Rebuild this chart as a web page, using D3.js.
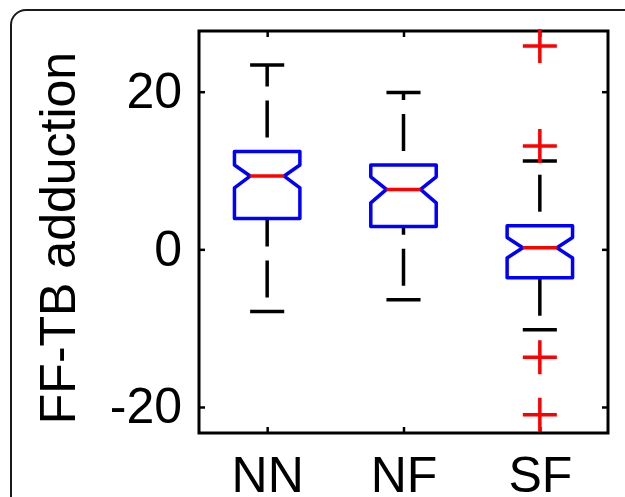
<!DOCTYPE html>
<html>
<head>
<meta charset="utf-8">
<script src="https://cdn.jsdelivr.net/npm/d3@7"></script>
<style>
  body { margin: 0; background: #fff; }
  svg { display: block; }
</style>
</head>
<body>
<script>
// box plot summary per group
const categories = ["NN", "NF", "SF"];
const whiskerHigh = [23.4, 19.9, 11.2];
const q3 = [12.4, 10.7, 3.0];
const notchHigh = [10.7, 9.2, 1.5];
const medians = [9.3, 7.6, 0.2];
const notchLow = [7.8, 5.9, -1.1];
const q1 = [3.9, 2.9, -3.6];
const whiskerLow = [-7.9, -6.4, -10.2];
const outliers = [[], [], [25.8, 13.1, -13.7, -21.0]];
const yTicks = [-20, 0, 20];

const w = 625, h = 497;
const plot = { left: 199, right: 608, top: 31, bottom: 433 };
const font = "'Liberation Sans', Arial, Helvetica, sans-serif";

const svg = d3.select("body").append("svg")
    .attr("width", w)
    .attr("height", h);

// journal frame, only top-left part visible
svg.append("rect")
    .attr("x", 11).attr("y", 10)
    .attr("width", 800).attr("height", 700)
    .attr("rx", 15)
    .attr("fill", "none")
    .attr("stroke", "#1a1a1a")
    .attr("stroke-width", 2);

const x = d3.scaleLinear().domain([0.5, 3.5]).range([plot.left, plot.right]);
const y = d3.scaleLinear().domain([-23.3, 27.7]).range([plot.bottom, plot.top]);

const boxHalf = 0.24, capHalf = 0.125, notchHalf = 0.125;

// axes (inward ticks on all four sides)
const styleAxis = g => {
    g.select(".domain").remove();
    g.selectAll(".tick line").attr("stroke", "#000").attr("stroke-width", 2.5);
    g.selectAll("text")
        .attr("fill", "#000")
        .style("font-family", font)
        .style("font-size", "50px");
};

svg.append("g")
    .attr("transform", `translate(${plot.left},0)`)
    .call(d3.axisLeft(y).tickValues(yTicks).tickSizeInner(-6).tickSizeOuter(0)
        .tickPadding(17).tickFormat(d => String(d)))
    .call(styleAxis);

svg.append("g")
    .attr("transform", `translate(${plot.right},0)`)
    .call(d3.axisRight(y).tickValues(yTicks).tickSizeInner(-6).tickSizeOuter(0).tickFormat(""))
    .call(styleAxis);

svg.append("g")
    .attr("transform", `translate(0,${plot.bottom})`)
    .call(d3.axisBottom(x).tickValues([1, 2, 3]).tickSizeInner(-6).tickSizeOuter(0)
        .tickPadding(23).tickFormat(d => categories[d - 1]))
    .call(styleAxis);

svg.append("g")
    .attr("transform", `translate(0,${plot.top})`)
    .call(d3.axisTop(x).tickValues([1, 2, 3]).tickSizeInner(-6).tickSizeOuter(0).tickFormat(""))
    .call(styleAxis);

svg.append("rect")
    .attr("x", plot.left).attr("y", plot.top)
    .attr("width", plot.right - plot.left)
    .attr("height", plot.bottom - plot.top)
    .attr("fill", "none")
    .attr("stroke", "#000")
    .attr("stroke-width", 3);

svg.append("text")
    .attr("transform", `translate(75,${(plot.top + plot.bottom) / 2 + 6}) rotate(-90)`)
    .attr("text-anchor", "middle")
    .style("font-family", font)
    .style("font-size", "50px")
    .attr("fill", "#000")
    .text("FF-TB adduction");

const g = svg.append("g");

categories.forEach((c, i) => {
    const cx = i + 1;

    // whiskers, drawn from the lower end upward
    [[q3[i], whiskerHigh[i]], [whiskerLow[i], q1[i]]].forEach(([a, b]) => {
        g.append("line")
            .attr("x1", x(cx)).attr("x2", x(cx))
            .attr("y1", y(a)).attr("y2", y(b))
            .attr("stroke", "#000")
            .attr("stroke-width", 3.5)
            .attr("stroke-dasharray", "37,14")
            .attr("stroke-dashoffset", 37);
    });

    [whiskerHigh[i], whiskerLow[i]].forEach(v => {
        g.append("line")
            .attr("x1", x(cx - capHalf)).attr("x2", x(cx + capHalf))
            .attr("y1", y(v)).attr("y2", y(v))
            .attr("stroke", "#000")
            .attr("stroke-width", 3.5);
    });

    const pts = [
        [cx - boxHalf, q3[i]], [cx + boxHalf, q3[i]],
        [cx + boxHalf, notchHigh[i]], [cx + notchHalf, medians[i]],
        [cx + boxHalf, notchLow[i]], [cx + boxHalf, q1[i]],
        [cx - boxHalf, q1[i]], [cx - boxHalf, notchLow[i]],
        [cx - notchHalf, medians[i]], [cx - boxHalf, notchHigh[i]]
    ];
    g.append("path")
        .attr("d", d3.line().x(d => x(d[0])).y(d => y(d[1]))(pts) + "Z")
        .attr("fill", "none")
        .attr("stroke", "#0000ff")
        .attr("stroke-width", 3.5)
        .attr("stroke-linejoin", "round");

    g.append("line")
        .attr("x1", x(cx - notchHalf)).attr("x2", x(cx + notchHalf))
        .attr("y1", y(medians[i])).attr("y2", y(medians[i]))
        .attr("stroke", "#ff0000")
        .attr("stroke-width", 3.5);

    outliers[i].forEach(v => {
        const px = x(cx), py = y(v), s = 17;
        g.append("path")
            .attr("d", `M${px - s},${py}H${px + s}M${px},${py - s}V${py + s}`)
            .attr("stroke", "#ff0000")
            .attr("stroke-width", 3.5)
            .attr("fill", "none");
    });
});
</script>
</body>
</html>
